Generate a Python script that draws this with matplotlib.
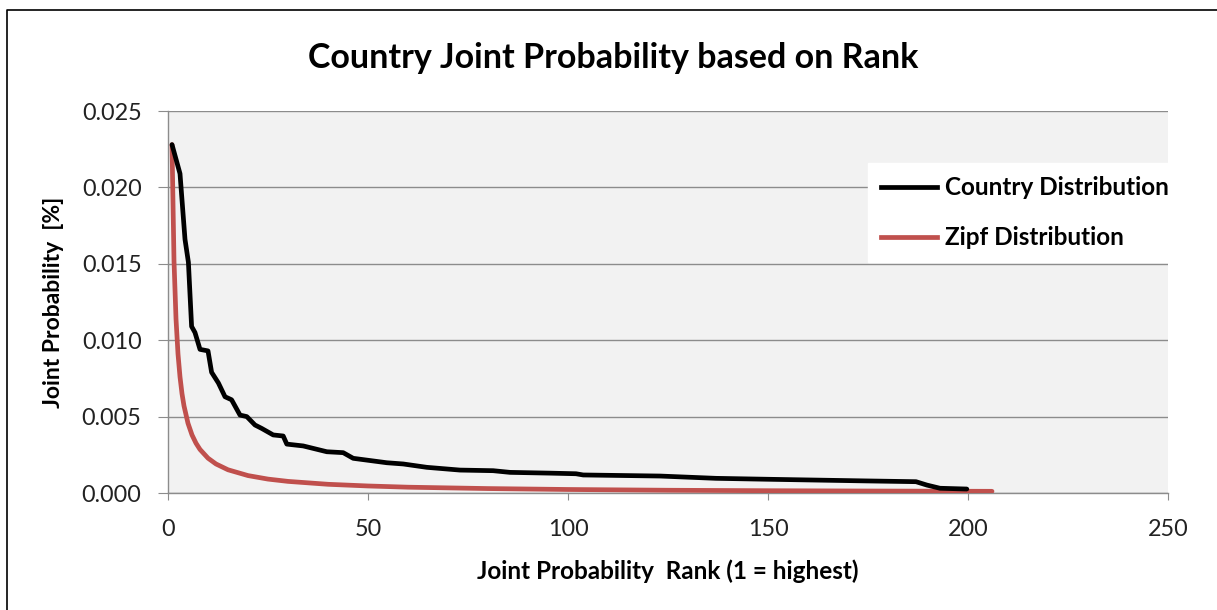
import matplotlib
matplotlib.use("Agg")
import matplotlib.pyplot as plt
from matplotlib.lines import Line2D

# Country distribution (rank, joint probability)
country_rank = [1, 3, 4.25, 5.1, 5.9, 6.75, 8, 10, 10.9, 12.6, 14.25, 15.9, 18, 19.7,
                21.75, 23.4, 26.3, 28.8, 29.7, 33.8, 39.7, 43.8, 46.3, 54.7, 58.8,
                64.7, 73, 81.3, 85.5, 95.5, 102, 103.8, 123, 137, 149.7, 174.7, 187,
                189.7, 193, 199.7]
country_prob = [0.0228, 0.0209, 0.0166, 0.0151, 0.0109, 0.0105, 0.0094, 0.0093, 0.0079,
                0.0072, 0.0063, 0.0061, 0.0051, 0.0050, 0.00445, 0.00423, 0.0038,
                0.00373, 0.0032, 0.00308, 0.0027, 0.00264, 0.00227, 0.00198, 0.0019,
                0.00168, 0.0015, 0.00146, 0.00135, 0.00130, 0.00126, 0.00118, 0.00111,
                0.00096, 0.0009, 0.00079, 0.00074, 0.00052, 0.00031, 0.00026]

# Zipf distribution
zipf_rank = [1, 1.5, 2, 2.5, 3, 3.5, 4, 5, 6, 7, 8, 10, 12, 15, 20, 25, 30, 40, 50, 60,
             80, 100, 125, 150, 175, 206]
zipf_prob = [0.0228, 0.0152, 0.0114, 0.0091, 0.0076, 0.0065, 0.0057, 0.00456, 0.0038,
             0.00326, 0.00285, 0.00228, 0.0019, 0.00152, 0.00114, 0.00091, 0.00076,
             0.00057, 0.00046, 0.00038, 0.00029, 0.00023, 0.00018, 0.00015, 0.00013,
             0.00011]

x_ticks = [0, 50, 100, 150, 200, 250]
y_ticks = [0.000, 0.005, 0.010, 0.015, 0.020, 0.025]

W, H = 1217, 610
fig = plt.figure(figsize=(W / 100, H / 100), dpi=100)
fig.patch.set_facecolor("white")

FONT = ["Lato", "DejaVu Sans"]
grid_c = "#8c8c8c"

ax = fig.add_axes([168 / W, 1 - 493 / H, 1000 / W, 382 / H])
ax.set_facecolor("#f2f2f2")
ax.plot(zipf_rank, zipf_prob, color="#c0504d", lw=3.4, solid_capstyle="round",
        label="Zipf Distribution", zorder=3)
ax.plot(country_rank, country_prob, color="black", lw=3.4, solid_capstyle="round",
        label="Country Distribution", zorder=4)

ax.set_xlim(0, 250)
ax.set_ylim(0, 0.025)
ax.set_xticks(x_ticks)
ax.set_yticks(y_ticks)
ax.set_xticklabels([str(v) for v in x_ticks], fontsize=16.8, family=FONT, color="#222222")
ax.set_yticklabels([f"{v:.3f}" for v in y_ticks], fontsize=16.8, family=FONT, color="#222222")
ax.tick_params(axis="y", direction="out", length=7, color=grid_c, pad=12)
ax.tick_params(axis="x", direction="out", length=5, color=grid_c, pad=14)
ax.grid(axis="y", color=grid_c, lw=1.0, zorder=0)
ax.set_axisbelow(True)
for s in ["top", "right"]:
    ax.spines[s].set_visible(False)
for s in ["left", "bottom"]:
    ax.spines[s].set_color(grid_c)
    ax.spines[s].set_linewidth(1.0)

ax.set_xlabel("Joint Probability  Rank (1 = highest)", fontsize=17.5, fontweight="bold",
              family=FONT, labelpad=14)
ax.set_ylabel("Joint Probability  [%]", fontsize=16.5, fontweight="bold", family=FONT,
              labelpad=13)

fig.text(613 / W, 1 - 58 / H, "Country Joint Probability based on Rank", fontsize=24.5,
         fontweight="bold", family=FONT, ha="center", va="center")

handles = [Line2D([0], [0], color="black", lw=3.4),
           Line2D([0], [0], color="#c0504d", lw=3.4)]
leg = fig.legend(handles, ["Country Distribution", "Zipf Distribution"],
                 loc="upper left", bbox_to_anchor=(868 / W, 1 - 163 / H),
                 prop={"family": FONT, "weight": "bold", "size": 17.5},
                 frameon=True, fancybox=False, edgecolor="white", facecolor="white",
                 framealpha=1, handlelength=2.3, handletextpad=0.3, labelspacing=1.1,
                 borderpad=0.55, borderaxespad=0)

# outer chart border (top and left visible)
fig.add_artist(Line2D([7 / W, 7 / W, 1.0], [0, 1 - 10 / H, 1 - 10 / H],
                      transform=fig.transFigure, color="black", lw=1.2))

fig.savefig("out.png", dpi=100)
